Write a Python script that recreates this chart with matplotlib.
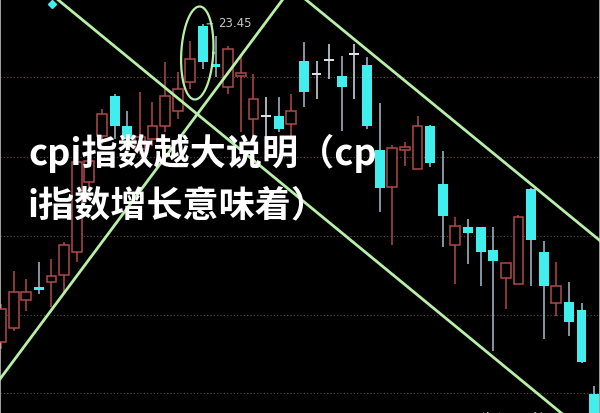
import numpy as np
import matplotlib
matplotlib.use('Agg')
import matplotlib.pyplot as plt

# K-line data (price scale: 23.45 = top of the peak candle)
opens = [17.09, 17.37, 17.93, 18.17, 18.29, 18.43, 18.89, 20.29, 21.21, 22.01,
         21.41, 20.95, 21.15, 21.41, 21.71, 22.29, 23.41, 22.63, 22.19, 22.41,
         21.55, 21.61, 21.61, 21.45, 22.71, 22.45, 22.73, 22.41, 22.85, 22.63,
         20.93, 20.19, 20.93, 20.55, 21.41, 20.25, 19.03, 19.39, 19.39, 18.93,
         18.37, 18.25, 20.15, 18.89, 17.87, 17.89, 17.73, 16.05]
closes = [17.75, 18.09, 18.09, 18.13, 18.41, 19.03, 20.69, 20.71, 21.65, 21.41,
          21.15, 21.19, 21.41, 22.01, 22.15, 22.75, 22.69, 22.59, 22.95, 22.43,
          21.95, 21.61, 21.35, 21.71, 22.09, 22.45, 22.73, 22.19, 22.85, 21.41,
          20.17, 20.97, 20.95, 21.41, 20.67, 19.61, 19.41, 19.27, 18.89, 18.71,
          18.67, 19.59, 19.13, 18.21, 18.21, 17.49, 16.69, 15.55]
highs = [17.85, 18.51, 18.35, 18.69, 18.75, 19.09, 20.81, 20.95, 21.75, 22.05,
         21.71, 22.09, 21.89, 22.69, 22.49, 23.11, 23.45, 23.21, 23.01, 22.85,
         22.45, 21.99, 21.99, 22.05, 23.09, 22.71, 23.05, 22.81, 23.05, 22.79,
         21.87, 21.03, 21.09, 21.61, 21.43, 20.91, 19.59, 19.55, 19.39, 19.39,
         18.67, 19.63, 20.17, 19.11, 18.69, 18.29, 17.87, 16.21]
lows = [16.95, 17.31, 17.71, 18.05, 17.79, 18.05, 18.69, 20.15, 21.05, 21.15,
        20.95, 20.85, 21.01, 21.29, 21.55, 22.15, 22.55, 22.39, 22.05, 21.29,
        21.15, 21.21, 21.29, 21.15, 21.79, 21.95, 22.35, 21.31, 21.95, 21.35,
        19.69, 19.03, 20.61, 20.55, 20.59, 18.99, 18.25, 18.65, 18.21, 16.91,
        17.75, 18.25, 18.21, 17.15, 17.61, 17.21, 16.67, 15.55]
grid_levels = [22.39, 20.79, 19.21, 17.63, 16.07]

# trend lines: (index, price) pairs
trend_lines = [((4.44, 23.95), (44.29, 15.69)),
               ((-0.08, 16.35), (22.35, 23.95)),
               ((24.09, 23.95), (47.3, 19.15))]
signal_marks = [(4.04, 23.85)]

title_lines = ['cpi指数越大说明（cp', 'i指数增长意味着）']

RED = '#b04a4a'
CYAN = '#40eeee'
CYAN_WICK = '#a8bccc'
GREEN = '#b8f0a8'

o = np.array(opens)
c = np.array(closes)
h = np.array(highs)
l = np.array(lows)
idx = np.arange(len(o))

fig = plt.figure(figsize=(6, 4.14), dpi=100, facecolor='black')
ax = fig.add_axes([0, 0, 1, 1], facecolor='black')

up = c > o
down = c < o
flat = c == o

# wicks
ax.vlines(idx[up], l[up], h[up], color=RED, lw=1.1, zorder=2)
ax.vlines(idx[down], l[down], h[down], color=CYAN_WICK, lw=1.1, zorder=2)
ax.vlines(idx[flat], l[flat], h[flat], color='#d8e0e8', lw=1.1, zorder=2)

# bodies
w = 0.78
body = np.maximum(np.abs(c - o), 0.05)
bottom = np.minimum(o, c)
ax.bar(idx[up], body[up], w, bottom[up], facecolor='black', edgecolor=RED, lw=1.1, zorder=3)
ax.bar(idx[down], body[down], w, bottom[down], color=CYAN, lw=0, zorder=3)
ax.bar(idx[flat], 0.05, w, o[flat] - 0.025, color='#d8e0e8', lw=0, zorder=3)

for m in signal_marks:
    ax.plot(*m, marker='D', ms=4, color=CYAN, zorder=4)

# channel lines
for p1, p2 in trend_lines:
    ax.axline(p1, p2, color=GREEN, lw=2, zorder=5)

# ellipse round the peak
k = int(np.argmax(h))
t = np.linspace(0, 2 * np.pi, 200)
ey = 22.87 + 0.93 * np.sin(t)
ex = k - 0.45 + 1.27 * np.cos(t) + 0.2 * (ey - 22.87)
ax.plot(ex, ey, color=GREEN, lw=1.6, zorder=5)

ax.annotate(f'{h.max():.2f}', xy=(k + 0.1, h[k]), xytext=(k + 1.2, h[k] + 0.02),
            color='#c8c8c8', fontsize=8.5, va='center',
            arrowprops=dict(arrowstyle='-', color='#c8c8c8', lw=0.8))

ax.set_xlim(-0.08, 47.46)
ax.set_ylim(15.67, 23.95)
ax.set_yticks(grid_levels)
ax.set_xticks([])
ax.grid(axis='y', color='#6a4646', ls=(0, (1, 2)), lw=0.8)
ax.tick_params(left=False, labelleft=False)
for s in ['left', 'top', 'right']:
    ax.spines[s].set_color('#bdbdbd')
    ax.spines[s].set_linewidth(1.2)
ax.spines['bottom'].set_visible(False)

cjk = ['Noto Sans CJK SC', 'DejaVu Sans']
fig.text(0.047, 0.630, title_lines[0], color='white', fontsize=26,
         family=cjk, weight='bold', va='center', zorder=10)
fig.text(0.045, 0.503, title_lines[1], color='white', fontsize=26,
         family=cjk, weight='bold', va='center', zorder=10)
fig.text(0.80, 0.004, '头条 @财经', color='white', fontsize=10,
         family=cjk, va='top')

fig.savefig('out.png', dpi=100, facecolor='black')
